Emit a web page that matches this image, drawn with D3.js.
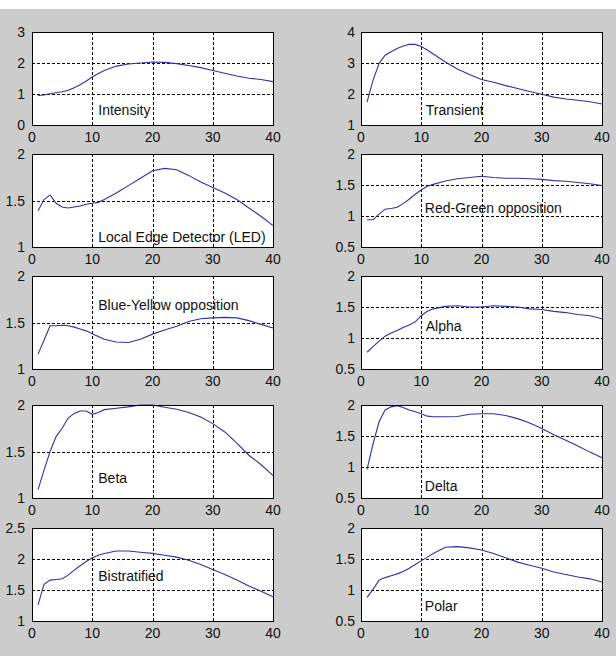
<!DOCTYPE html>
<html>
<head>
<meta charset="utf-8">
<style>
body { margin: 0; background: #cccccc; }
svg { display: block; }
text { font-family: "Liberation Sans", Arial, sans-serif; fill: #111; }
</style>
<script src="https://cdn.jsdelivr.net/npm/d3@7"></script>
</head>
<body>
<svg id="chart" width="616" height="656"></svg>
<script>
// abscissa shared by every panel
var xs = [1, 2, 3, 4, 5, 6, 7, 8, 9, 10, 11, 12, 14, 16, 18, 20, 22, 24, 26, 28, 30, 32, 34, 36, 38, 40];

var intensity    = [0.95, 0.97, 1.01, 1.04, 1.07, 1.12, 1.20, 1.30, 1.42, 1.55, 1.66, 1.76, 1.90, 1.97, 2.00, 2.03, 2.02, 1.98, 1.92, 1.85, 1.76, 1.67, 1.58, 1.51, 1.47, 1.40];
var transient    = [1.74, 2.45, 2.98, 3.25, 3.36, 3.47, 3.55, 3.60, 3.60, 3.53, 3.42, 3.29, 3.03, 2.81, 2.63, 2.47, 2.38, 2.27, 2.18, 2.08, 1.99, 1.90, 1.84, 1.80, 1.75, 1.68];
var led          = [1.39, 1.51, 1.56, 1.47, 1.43, 1.42, 1.43, 1.44, 1.46, 1.47, 1.48, 1.51, 1.58, 1.66, 1.74, 1.82, 1.845, 1.83, 1.77, 1.70, 1.64, 1.58, 1.51, 1.42, 1.33, 1.23];
var redGreen     = [0.94, 0.94, 1.03, 1.11, 1.12, 1.14, 1.20, 1.27, 1.35, 1.42, 1.48, 1.51, 1.565, 1.60, 1.62, 1.64, 1.62, 1.61, 1.61, 1.60, 1.59, 1.57, 1.56, 1.54, 1.52, 1.49];
var blueYellow   = [1.16, 1.31, 1.465, 1.465, 1.47, 1.465, 1.45, 1.43, 1.41, 1.38, 1.35, 1.32, 1.29, 1.285, 1.32, 1.375, 1.42, 1.46, 1.51, 1.54, 1.55, 1.555, 1.55, 1.52, 1.48, 1.44];
var alpha        = [0.77, 0.86, 0.95, 1.03, 1.08, 1.12, 1.17, 1.21, 1.26, 1.36, 1.43, 1.47, 1.51, 1.52, 1.50, 1.50, 1.52, 1.51, 1.50, 1.47, 1.46, 1.43, 1.41, 1.38, 1.36, 1.31];
var beta         = [1.09, 1.30, 1.50, 1.66, 1.75, 1.86, 1.91, 1.935, 1.935, 1.90, 1.92, 1.95, 1.965, 1.98, 2.00, 2.00, 1.975, 1.955, 1.92, 1.87, 1.80, 1.71, 1.59, 1.46, 1.36, 1.24];
var delta        = [0.96, 1.375, 1.73, 1.92, 1.97, 1.99, 1.96, 1.92, 1.89, 1.86, 1.82, 1.81, 1.81, 1.815, 1.85, 1.86, 1.86, 1.83, 1.78, 1.71, 1.62, 1.52, 1.43, 1.34, 1.24, 1.15];
var bistratified = [1.26, 1.59, 1.66, 1.67, 1.68, 1.74, 1.82, 1.89, 1.96, 2.02, 2.06, 2.09, 2.13, 2.13, 2.11, 2.09, 2.06, 2.03, 1.98, 1.91, 1.83, 1.75, 1.66, 1.565, 1.48, 1.39];
var polar        = [0.88, 1.01, 1.16, 1.20, 1.23, 1.26, 1.30, 1.35, 1.41, 1.47, 1.53, 1.59, 1.69, 1.70, 1.68, 1.645, 1.59, 1.52, 1.45, 1.40, 1.35, 1.29, 1.25, 1.21, 1.18, 1.13];

var series = [intensity, transient, led, redGreen, blueYellow, alpha, beta, delta, bistratified, polar];
var nomes = ["Intensity", "Transient", "Local Edge Detector (LED)", "Red-Green opposition",
    "Blue-Yellow opposition", "Alpha", "Beta", "Delta", "Bistratified", "Polar"];

// y limits and tick step of each panel
var yMin  = [0, 1, 1, 0.5, 1, 0.5, 1, 0.5, 1, 0.5];
var yMax  = [3, 4, 2, 2, 2, 2, 2, 2, 2.5, 2];
var yStep = [1, 1, 0.5, 0.5, 0.5, 0.5, 0.5, 0.5, 0.5, 0.5];
var xTicks = [0, 10, 20, 30, 40];

// where each panel's name sits, in data units
var labelX = [11, 10.75, 11, 10.6, 11, 10.75, 11, 10.6, 11, 10.6];
var labelY = [0.47, 1.49, 1.11, 1.13, 1.69, 1.19, 1.21, 0.70, 1.73, 0.74];

var colLeft = [32, 361];
var rowTop = [32, 154, 276, 405, 528];
var boxW = 241;
var boxH = 93;

var svg = d3.select('#chart');

// white strip across the top of the figure
svg.append('rect').attr('x', 0).attr('y', 0).attr('width', 616).attr('height', 9).style('fill', '#fff');

for (var i = 0; i < series.length; i++) {
    drawPanel(i);
}

function crisp(v) {
    return Math.round(v) + 0.5;
}

function drawPanel(i) {
    var col = i % 2;
    var row = Math.floor(i / 2);
    var left = colLeft[col];
    var top = rowTop[row];

    var x = d3.scaleLinear().domain([0, 40]).range([left, left + boxW]);
    var y = d3.scaleLinear().domain([yMin[i], yMax[i]]).range([top + boxH, top]);
    var yTicks = d3.range(yMin[i], yMax[i] + 1e-9, yStep[i]);

    var g = svg.append('g');

    g.append('rect')
        .attr('x', left).attr('y', top)
        .attr('width', boxW).attr('height', boxH)
        .style('fill', '#fff');

    // dashed grid
    g.selectAll('.gx')
        .data(xTicks.slice(1, -1))
        .enter()
        .append('line')
        .attr('x1', function (d) { return crisp(x(d)); })
        .attr('x2', function (d) { return crisp(x(d)); })
        .attr('y1', top).attr('y2', top + boxH)
        .style('stroke', '#000').style('stroke-dasharray', '3,2');

    g.selectAll('.gy')
        .data(yTicks.slice(1, -1))
        .enter()
        .append('line')
        .attr('y1', function (d) { return crisp(y(d)); })
        .attr('y2', function (d) { return crisp(y(d)); })
        .attr('x1', left).attr('x2', left + boxW)
        .style('stroke', '#000').style('stroke-dasharray', '3,2');

    var line = d3.line()
        .x(function (d, k) { return x(xs[k]); })
        .y(function (d) { return y(d); });

    g.append('path')
        .datum(series[i])
        .attr('d', line)
        .style('fill', 'none')
        .style('stroke', '#3030a8')
        .style('stroke-width', 1.1);

    g.append('rect')
        .attr('x', left + 0.5).attr('y', top + 0.5)
        .attr('width', boxW).attr('height', boxH)
        .style('fill', 'none').style('stroke', '#000');

    // tick labels
    g.selectAll('.tx')
        .data(xTicks)
        .enter()
        .append('text')
        .attr('x', function (d) { return x(d); })
        .attr('y', top + boxH + 17)
        .attr('text-anchor', 'middle')
        .style('font-size', '14px')
        .text(function (d) { return d; });

    g.selectAll('.ty')
        .data(yTicks)
        .enter()
        .append('text')
        .attr('x', left - (col === 0 ? 7 : 6))
        .attr('y', function (d) { return y(d) + 5; })
        .attr('text-anchor', 'end')
        .style('font-size', '14px')
        .text(function (d) { return String(+d.toFixed(2)); });

    g.append('text')
        .attr('x', x(labelX[i]))
        .attr('y', y(labelY[i]))
        .attr('dy', '0.35em')
        .style('font-size', '14px')
        .text(nomes[i]);
}
</script>
</body>
</html>
